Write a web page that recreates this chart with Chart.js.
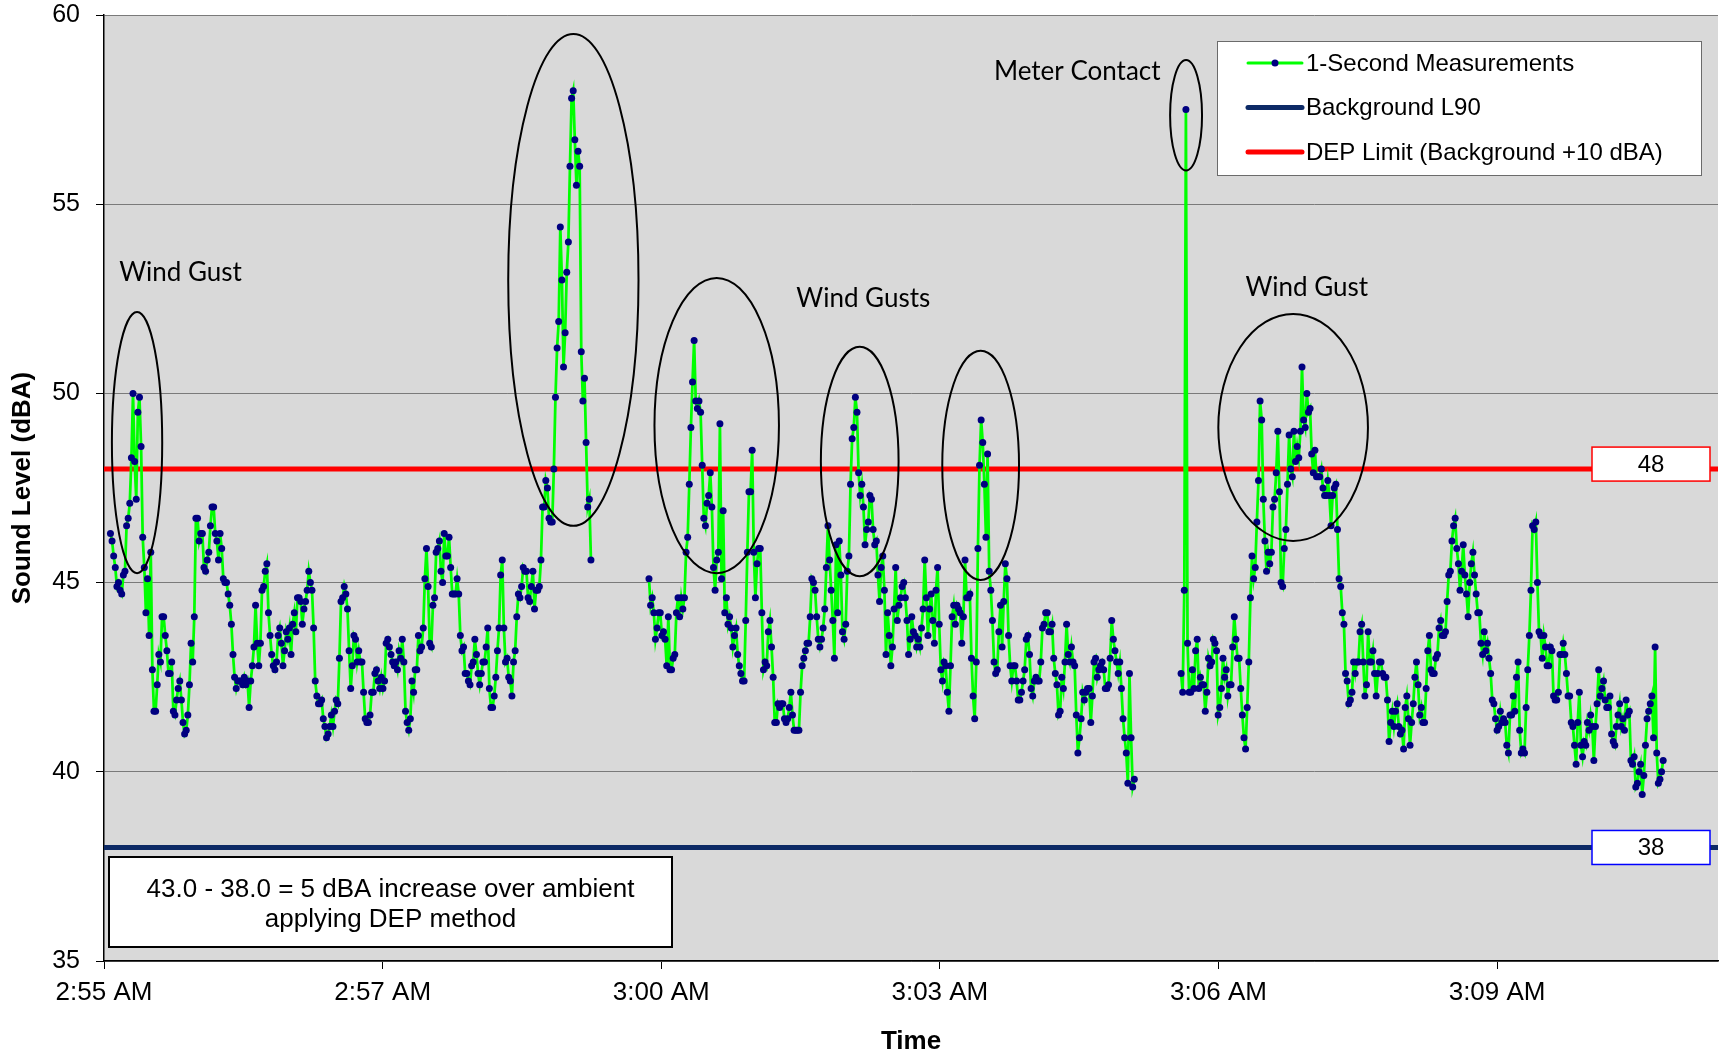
<!DOCTYPE html>
<html>
<head>
<meta charset="utf-8">
<script src="https://cdn.jsdelivr.net/npm/chart.js@4.4.1/dist/chart.umd.min.js"></script>
<style>
  html, body { margin: 0; padding: 0; background: #fff; }
  #wrap { width: 1722px; height: 1058px; position: relative; }
</style>
</head>
<body>
<div id="wrap"><canvas id="soundChart"></canvas></div>
<script>
// time is in seconds after 2:55:00 AM
const tickSeconds = [0, 172.8, 345.6, 518.4, 691.2, 864];
const tickLabels = ['2:55 AM', '2:57 AM', '3:00 AM', '3:03 AM', '3:06 AM', '3:09 AM'];
const axisEnd = 1001;

const backgroundL90 = 38;
const depLimit = 48;

// 1-second readings, three runs with short dropouts between them
const seg1Start = 4;
const seg1Levels = [
  46.3, 46.1, 45.7, 45.4, 44.9, 45.0, 44.8, 44.7, 45.2, 45.3,
  46.5, 46.7, 47.1, 48.3, 50.0, 48.2, 47.2, 49.5, 49.9, 48.6,
  46.2, 45.4, 44.2, 45.1, 43.6, 45.8, 42.7, 41.6, 41.6, 42.3,
  43.1, 42.9, 44.1, 44.1, 43.6, 43.2, 42.6, 42.6, 42.9, 41.6,
  41.5, 41.9, 42.2, 42.4, 41.9, 41.3, 41.0, 41.1, 41.5, 42.3,
  43.4, 42.9, 44.1, 46.7, 46.7, 46.1, 46.3, 46.3, 45.4, 45.3,
  45.6, 45.8, 46.5, 47.0, 47.0, 46.3, 46.1, 45.6, 46.3, 45.9,
  45.1, 45.0, 45.0, 44.7, 44.4, 43.9, 43.1, 42.5, 42.2, 42.4,
  42.4, 42.4, 42.3, 42.5, 42.3, 42.4, 41.7, 42.4, 42.8, 43.3,
  44.4, 43.4, 42.8, 43.4, 44.8, 44.9, 45.3, 45.5, 44.2, 43.6,
  43.1, 42.8, 42.7, 42.9, 43.6, 43.8, 43.4, 42.8,
  43.2, 43.7, 43.5, 43.8, 43.1, 43.9, 44.2, 43.7, 44.6, 44.6,
  44.5, 43.9, 44.3, 44.5, 44.8, 45.3, 45.0, 44.8, 43.8, 42.4,
  42.0, 41.8, 41.8, 41.9, 41.4, 41.2, 40.9, 41.0, 41.2, 41.5,
  41.2, 41.6, 41.9, 41.8, 43.0, 44.5, 44.6, 44.9, 44.7, 44.3,
  43.2, 42.2, 42.8, 43.6, 43.5, 42.9, 43.2, 42.9, 42.9, 42.1,
  41.4, 41.3, 41.3, 41.5, 42.1, 42.1, 42.6, 42.7, 42.4, 42.2,
  42.5, 42.2, 42.4, 43.4, 43.5, 43.3, 43.1, 42.9, 42.8, 42.9,
  42.7, 43.2, 43.0, 43.5, 42.9, 41.6, 41.3, 41.1, 41.4, 42.4,
  42.1, 42.7, 42.7, 43.6, 43.2, 43.3, 43.8, 45.1, 45.9, 44.9,
  43.4, 43.3, 44.4, 44.6, 45.8, 45.9, 46.1, 45.3, 45.0, 46.3,
  45.7, 45.7, 46.2, 45.4, 44.7, 44.7, 44.7, 45.1, 44.7, 43.6,
  43.2, 43.3, 42.6, 42.6, 42.4, 42.3, 42.8, 42.9, 43.5, 43.1,
  42.6, 42.3, 42.6, 42.9, 42.9, 43.3, 43.8, 42.2, 41.7, 41.7,
  42.0, 42.5, 43.2, 43.8, 45.2, 45.6, 43.8, 42.9, 43.0, 42.5,
  42.4, 42.0, 42.9, 43.2, 44.1, 44.7, 44.6, 44.9, 45.4, 45.3,
  45.3, 44.6, 44.5, 44.9, 45.3, 44.3, 44.8, 44.8, 44.9, 45.6,
  47.0, 47.0, 47.7, 47.5, 46.7, 46.6, 46.6, 48.0, 49.9, 51.2,
  51.9, 54.4, 53.0, 50.7, 51.6, 53.2, 54.0, 56.0, 57.8, 58.0,
  56.7, 55.5, 56.4, 56.0, 51.1, 49.8, 50.4, 48.7, 47.0, 47.2,
  45.6
];

const seg2Start = 338;
const seg2Levels = [
  45.1, 44.4, 44.6, 44.2, 43.5, 43.8, 44.2, 44.2, 43.6, 43.7,
  43.5, 42.8, 44.1, 42.7, 42.7, 43.0, 43.1, 44.2, 44.6, 44.1,
  44.6, 44.3, 44.6, 45.8, 46.2, 47.6, 49.1, 50.3, 51.4, 49.8,
  49.6, 49.8, 49.5, 48.1, 46.7, 46.5, 47.1, 47.3, 47.9, 47.0,
  45.4, 44.8, 45.6, 45.8, 49.2, 45.1, 46.9, 44.2, 44.6, 43.9,
  44.1, 43.8, 43.3, 43.6, 43.8, 43.1, 42.8, 42.6, 42.4, 42.4,
  44.0, 45.8, 47.4, 47.4, 48.5, 45.8, 44.6, 45.5, 45.9, 45.9,
  44.2, 42.7, 42.9, 42.8, 43.7, 44.0, 43.3, 42.5, 41.3, 41.3,
  41.8, 41.7, 41.8, 41.8, 41.4, 41.3, 41.4, 41.7, 42.1, 41.5,
  41.1, 41.1, 41.1, 41.1, 42.1, 42.8, 43.0, 43.2, 43.4, 43.4,
  44.1, 45.1, 45.0, 44.8, 44.1, 43.5, 43.3, 43.5, 43.8,
  44.3, 45.4, 46.5, 45.6, 44.8, 44.0, 43.0, 46.0, 44.2, 46.1,
  45.2, 43.7, 43.5, 43.9, 45.3, 45.7, 47.6, 48.8, 49.1, 49.9,
  49.5, 47.9, 47.3, 47.6, 47.0, 46.0, 46.4, 46.6, 47.3, 47.2,
  46.4, 46.0, 46.1, 45.2, 44.5, 45.4, 45.7, 44.8, 43.1, 44.2,
  43.6, 42.8, 43.3, 44.3, 45.4, 44.0, 44.4, 44.6, 44.9, 45.0,
  44.6, 44.0, 43.1, 43.5, 44.1, 43.7, 43.6, 43.3, 43.5, 43.3,
  43.8, 44.3, 45.6, 44.6, 43.6, 44.3, 44.7, 44.0, 43.4, 44.8,
  45.4, 43.9, 42.7, 42.4, 42.9, 42.8, 42.1, 41.6, 42.8, 44.1,
  44.4, 43.9, 44.4, 44.3, 44.2, 43.4, 44.1, 45.6, 44.6, 44.6,
  44.7, 43.0, 42.0, 41.4, 42.9, 45.9, 48.1, 49.3, 48.7, 47.6,
  46.2, 48.4, 45.3, 44.8, 44.0, 42.9, 42.6, 42.7, 43.7, 44.4,
  43.3,
  44.5, 45.5, 45.1, 43.6, 42.8, 42.4, 42.8, 42.8, 42.4, 41.9,
  41.9, 42.1, 42.4, 42.7, 43.5, 43.6, 43.1, 42.2, 42.0, 42.4,
  42.5, 42.4, 42.4, 42.9, 43.8, 43.9, 44.2, 44.2, 43.7, 43.7,
  43.9, 43.0, 42.6, 42.3, 41.5, 41.6, 42.5, 42.2, 42.9, 43.9,
  43.1, 42.9, 43.3, 42.9, 42.8, 41.5, 40.5, 40.9, 41.4, 42.1,
  41.9, 42.1, 42.2, 42.2, 41.3, 42.0, 42.9, 43.0, 42.5, 42.7,
  42.8, 42.9, 42.7, 42.2, 42.2, 42.3, 43.0, 44.0, 43.5, 43.2,
  42.9, 42.6, 42.9, 42.2, 41.4, 40.9, 40.5, 39.7, 42.6, 40.9,
  39.6, 39.8
];

const seg3Start = 668;
const seg3Levels = [
  42.6, 42.1, 44.8, 57.5, 43.4, 42.1, 42.1, 42.7, 42.2, 43.2,
  43.5, 42.2, 42.5, 42.3, 42.3, 41.6, 42.1, 43.0, 42.8, 42.9,
  43.5, 43.4, 43.2, 41.5, 41.7, 42.2, 43.0, 42.5, 42.7, 42.0,
  42.3, 42.3, 43.3, 44.1, 43.5, 43.0, 43.0, 42.2, 41.5, 40.9,
  40.6, 41.7, 42.9, 44.6, 45.7, 45.1, 45.4, 46.6, 47.7, 49.8,
  49.3, 47.2, 46.1, 45.3, 45.8, 45.5, 45.8, 47.0, 47.2, 47.9,
  49.0, 47.4, 45.0, 44.9, 45.9, 46.4, 47.6, 48.9, 48.0, 47.8,
  49.0, 48.2, 48.6, 48.3, 49.0, 50.7, 49.3, 49.1, 50.0, 49.5,
  49.6, 48.4, 47.9, 48.5, 47.8, 47.8, 47.8, 48.0, 47.5, 47.3,
  47.3, 47.7, 47.3, 46.5, 47.3, 47.5, 47.6, 46.4, 45.1, 44.9,
  44.2, 43.9, 42.6, 42.4, 41.8, 41.9, 42.1, 42.9, 42.6, 42.9,
  42.9, 43.7,
  43.9, 42.9, 42.0, 42.3, 43.7, 42.9, 42.9, 43.2, 42.6, 42.0,
  42.6, 42.9, 42.9, 42.6, 42.5, 42.5, 41.9, 40.8, 41.3, 41.6,
  41.2, 41.6, 41.8, 41.2, 41.0, 41.1, 40.6, 41.7, 42.0, 41.4,
  40.7, 41.3, 41.8, 42.5, 42.9, 42.3, 41.5, 41.7, 41.3, 41.3,
  42.2, 43.2, 43.6, 42.7, 42.6, 42.6, 43.0, 43.1, 43.8, 44.0,
  43.6, 43.6, 43.7, 44.5, 45.2, 45.3, 46.1, 46.5, 46.7, 45.9,
  45.5, 44.8, 45.3, 46.0, 45.2, 44.7, 44.1, 45.0, 45.5, 45.8,
  45.2, 44.7, 44.2, 44.2, 43.4, 43.1, 43.7, 43.2, 43.4, 43.0,
  42.6, 41.9, 41.8, 41.4, 41.1, 41.2, 41.6, 41.3, 41.4, 41.3,
  40.7, 40.5, 41.5, 41.5, 42.0, 41.6, 42.5, 42.9, 41.1, 40.5,
  40.6, 40.5, 41.7, 42.7, 43.6, 44.8, 46.5, 46.4, 46.6, 45.0,
  43.7,
  43.6, 43.0, 43.6, 43.3, 42.8, 42.8, 43.3, 43.2, 42.0, 41.9,
  41.9, 42.1, 43.1, 43.1, 43.4, 43.1, 42.6, 42.0, 42.0, 41.3,
  41.2, 40.7, 40.2, 41.3, 42.1, 40.7, 40.4, 40.8, 40.7, 41.3,
  41.1, 41.5, 41.2, 40.3, 41.2, 41.8, 42.7, 42.0, 42.2, 42.4,
  41.9, 41.7, 41.7, 42.0, 41.0, 40.8, 40.7, 41.2, 41.5, 41.8,
  41.2, 41.4, 41.1, 41.9, 41.5, 41.6, 40.3, 40.2, 40.4, 39.6,
  39.7, 40.0, 40.2, 39.4, 39.9, 40.7, 41.4, 41.6, 41.8, 42.0,
  40.9, 43.3, 40.5, 39.7, 39.8, 40.0, 40.3
];

// circled events: centre time (s), centre level (dBA), half width (s), half height (dBA)
const eventRings = [
  [20.5, 48.7, 15.6, 3.45],
  [291.1, 53.0, 40.4, 6.5],
  [380.0, 49.15, 38.6, 3.9],
  [468.7, 48.2, 24.1, 3.03],
  [543.7, 48.1, 23.8, 3.03],
  [671.1, 57.35, 9.9, 1.46],
  [737.5, 49.1, 46.4, 3.0]
];
const eventNames = ['Wind Gust', 'Wind Gusts', 'Meter Contact', 'Wind Gust'];
const eventNameAt = [[47.5, 53.2], [470.9, 52.5], [603.6, 58.5], [746.0, 52.8]];

const noteLines = ['43.0 - 38.0 = 5 dBA increase over ambient', 'applying DEP method'];

const AXIS_FONT = 'Liberation Sans, Arial, sans-serif';

function toPoints(start, levels) {
  return levels.map((v, i) => ({ x: start + i, y: v }));
}
const measurePoints = [].concat(
  toPoints(seg1Start, seg1Levels),
  [{ x: seg1Start + seg1Levels.length, y: null }],
  toPoints(seg2Start, seg2Levels),
  [{ x: seg2Start + seg2Levels.length, y: null }],
  toPoints(seg3Start, seg3Levels)
);

const plotBackground = {
  id: 'plotBackground',
  beforeDraw(chart) {
    const { ctx, chartArea: a } = chart;
    ctx.save();
    ctx.fillStyle = '#d9d9d9';
    ctx.fillRect(a.left, a.top, a.right - a.left, a.bottom - a.top);
    ctx.restore();
  }
};

const overlays = {
  id: 'overlays',
  afterDatasetsDraw(chart) {
    const { ctx, chartArea: a } = chart;
    const xs = chart.scales.x, ys = chart.scales.y;
    ctx.save();

    // rings round the events
    ctx.strokeStyle = '#000';
    ctx.lineWidth = 2;
    eventRings.forEach(r => {
      const cx = xs.getPixelForValue(r[0]);
      const cy = ys.getPixelForValue(r[1]);
      const rx = xs.getPixelForValue(r[0] + r[2]) - cx;
      const ry = cy - ys.getPixelForValue(r[1] + r[3]);
      ctx.beginPath();
      ctx.ellipse(cx, cy, rx, ry, 0, 0, Math.PI * 2);
      ctx.stroke();
    });

    ctx.fillStyle = '#000';
    ctx.font = '26px Lato, "Open Sans", sans-serif';
    ctx.textAlign = 'center';
    ctx.textBaseline = 'middle';
    eventNames.forEach((name, i) => {
      ctx.fillText(name, xs.getPixelForValue(eventNameAt[i][0]), ys.getPixelForValue(eventNameAt[i][1]));
    });

    // value tags at the right end of the two reference lines
    [[depLimit, '#ff0000', -5], [backgroundL90, '#0000ff', 0]].forEach(([v, c, dy]) => {
      const y = ys.getPixelForValue(v) + dy;
      const w = 118, h = 34, x0 = a.right - 8 - w;
      ctx.fillStyle = '#fff';
      ctx.fillRect(x0, y - h / 2, w, h);
      ctx.strokeStyle = c;
      ctx.lineWidth = 1.5;
      ctx.strokeRect(x0, y - h / 2, w, h);
      ctx.fillStyle = '#000';
      ctx.font = '24px ' + AXIS_FONT;
      ctx.fillText(String(v), x0 + w / 2, y + 1);
    });

    // note box
    const nx = a.left + 5, nw = 563, nh = 90, ny = a.bottom - 14 - nh;
    ctx.fillStyle = '#fff';
    ctx.fillRect(nx, ny, nw, nh);
    ctx.strokeStyle = '#000';
    ctx.lineWidth = 2;
    ctx.strokeRect(nx, ny, nw, nh);
    ctx.fillStyle = '#000';
    ctx.font = '26px ' + AXIS_FONT;
    noteLines.forEach((t, i) => ctx.fillText(t, nx + nw / 2, ny + 33 + i * 30));

    // legend
    const lw = 484, lh = 134, lx = a.right - 17 - lw, ly = a.top + 26;
    ctx.fillStyle = '#fff';
    ctx.fillRect(lx, ly, lw, lh);
    ctx.strokeStyle = '#6b6b6b';
    ctx.lineWidth = 1;
    ctx.strokeRect(lx + 0.5, ly + 0.5, lw, lh);
    ctx.textAlign = 'left';
    ctx.font = '24px ' + AXIS_FONT;
    chart.data.datasets.forEach((ds, i) => {
      const ry = ly + 22 + i * 44.5;
      ctx.beginPath();
      ctx.lineCap = 'round';
      ctx.strokeStyle = ds.borderColor;
      ctx.lineWidth = i === 0 ? 3 : 5;
      ctx.moveTo(lx + 31, ry);
      ctx.lineTo(lx + 85, ry);
      ctx.stroke();
      if (i === 0) {
        ctx.beginPath();
        ctx.fillStyle = ds.pointBackgroundColor;
        ctx.arc(lx + 58, ry, 3.5, 0, Math.PI * 2);
        ctx.fill();
      }
      ctx.fillStyle = '#000';
      ctx.fillText(ds.label, lx + 89, ry + 1);
    });
    ctx.restore();
  }
};

const config = {
  type: 'line',
  data: {
    datasets: [
      {
        label: '1-Second Measurements',
        data: measurePoints,
        borderColor: '#00ff00',
        borderWidth: 2.75,
        pointRadius: 3.5,
        pointBackgroundColor: '#000080',
        pointBorderColor: '#000080',
        pointBorderWidth: 0,
        spanGaps: false,
        tension: 0
      },
      {
        label: 'Background L90',
        data: [{ x: 0, y: backgroundL90 }, { x: axisEnd, y: backgroundL90 }],
        borderColor: '#0d2a66',
        borderWidth: 5,
        pointRadius: 0
      },
      {
        label: 'DEP Limit (Background +10 dBA)',
        data: [{ x: 0, y: depLimit }, { x: axisEnd, y: depLimit }],
        borderColor: '#ff0000',
        borderWidth: 5,
        pointRadius: 0
      }
    ]
  },
  options: {
    animation: false,
    responsive: true,
    maintainAspectRatio: false,
    layout: { padding: { top: 0, right: 0, bottom: 0, left: 0 } },
    plugins: {
      legend: { display: false },
      tooltip: { enabled: false }
    },
    scales: {
      x: {
        type: 'linear',
        min: 0,
        max: axisEnd,
        afterBuildTicks: (s) => { s.ticks = tickSeconds.map(v => ({ value: v })); },
        afterFit: (s) => { s.height = 97; },
        ticks: {
          callback: (v) => tickLabels[tickSeconds.indexOf(v)],
          color: '#000',
          font: { family: AXIS_FONT, size: 26 },
          padding: 8,
          maxRotation: 0,
          autoSkip: false
        },
        grid: { drawOnChartArea: false, tickLength: 8, tickColor: '#000' },
        border: { color: '#000', width: 1.5 },
        title: {
          display: true,
          text: 'Time',
          color: '#000',
          font: { family: AXIS_FONT, size: 26, weight: 'bold' },
          padding: { top: 0, bottom: 1 }
        }
      },
      y: {
        min: 35,
        max: 60,
        afterFit: (s) => { s.width = 104; s.paddingTop = 15; s.paddingBottom = 0; },
        ticks: {
          stepSize: 5,
          color: '#000',
          font: { family: AXIS_FONT, size: 25 },
          padding: 16
        },
        grid: { color: '#7a7a7a', lineWidth: 1, tickLength: 8, tickColor: '#000' },
        border: { color: '#000', width: 1.5 },
        title: {
          display: true,
          text: 'Sound Level (dBA)',
          color: '#000',
          font: { family: AXIS_FONT, size: 26, weight: 'bold' },
          padding: { top: 7, bottom: 0 }
        }
      }
    }
  },
  plugins: [plotBackground, overlays]
};

new Chart(document.getElementById('soundChart'), config);
</script>
</body>
</html>
